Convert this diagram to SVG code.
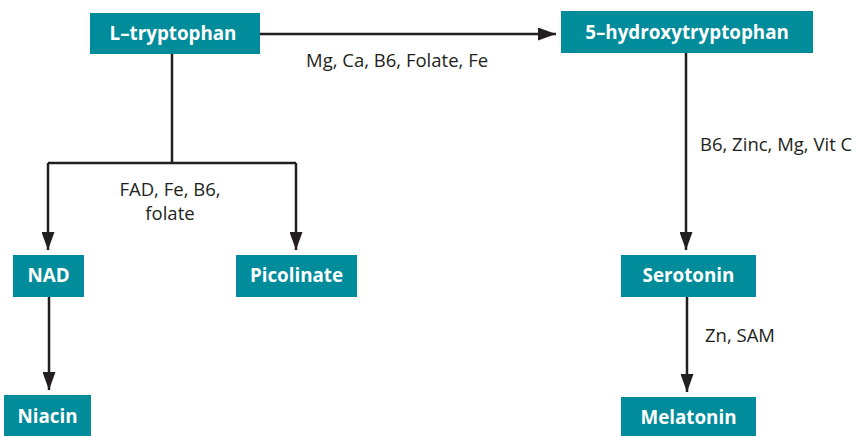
<svg xmlns="http://www.w3.org/2000/svg" width="858" height="436" viewBox="0 0 858 436">
  <style>
    .box { fill: #008c9a; }
    .lbl { font-family: "Open Sans", "Noto Sans", sans-serif; font-weight: bold; font-size: 18.8px; fill: #ffffff; text-anchor: middle; }
    .note { font-family: "Open Sans", "Noto Sans", sans-serif; font-size: 18.5px; fill: #231f20; }
    .wire { fill: none; stroke: #231f20; stroke-width: 2.5; }
  </style>
  <defs>
    <marker id="arrow" markerUnits="userSpaceOnUse" markerWidth="18" markerHeight="13" refX="18" refY="6.5" orient="auto">
      <path d="M0,0 L18,6.5 L0,13 Z" fill="#231f20"/>
    </marker>
  </defs>
  <rect width="858" height="436" fill="#ffffff"/>

  <g id="connectors">
    <path class="wire" d="M260,34 H556" marker-end="url(#arrow)"/>
    <path class="wire" d="M172,54 V163"/>
    <path class="wire" d="M48,163 H296"/>
    <path class="wire" d="M48,163 V250" marker-end="url(#arrow)"/>
    <path class="wire" d="M296,163 V250" marker-end="url(#arrow)"/>
    <path class="wire" d="M49,297 V390" marker-end="url(#arrow)"/>
    <path class="wire" d="M686,53 V250" marker-end="url(#arrow)"/>
    <path class="wire" d="M687,297 V392" marker-end="url(#arrow)"/>
    <text class="note" x="306" y="67">Mg, Ca, B6, Folate, Fe</text>
    <text class="note" x="170" y="196" text-anchor="middle">FAD, Fe, B6,</text>
    <text class="note" x="170" y="220" text-anchor="middle">folate</text>
    <text class="note" x="700" y="151">B6, Zinc, Mg, Vit C</text>
    <text class="note" x="705" y="342">Zn, SAM</text>
  </g>

  <g id="l-tryptophan">
    <rect class="box" x="90" y="13" width="170" height="41"/>
    <text class="lbl" x="173" y="40">L–tryptophan</text>
  </g>
  <g id="hydroxytryptophan">
    <rect class="box" x="561" y="11" width="252" height="42"/>
    <text class="lbl" x="687" y="39">5–hydroxytryptophan</text>
  </g>
  <g id="nad">
    <rect class="box" x="13" y="255" width="71" height="42"/>
    <text class="lbl" x="48.5" y="282">NAD</text>
  </g>
  <g id="picolinate">
    <rect class="box" x="236" y="255" width="121" height="42"/>
    <text class="lbl" x="296.5" y="282">Picolinate</text>
  </g>
  <g id="serotonin">
    <rect class="box" x="621" y="255" width="135" height="42"/>
    <text class="lbl" x="688.5" y="282">Serotonin</text>
  </g>
  <g id="niacin">
    <rect class="box" x="4" y="395" width="87" height="41"/>
    <text class="lbl" x="47.5" y="423">Niacin</text>
  </g>
  <g id="melatonin">
    <rect class="box" x="621" y="397" width="135" height="39"/>
    <text class="lbl" x="688.5" y="424">Melatonin</text>
  </g>
</svg>
